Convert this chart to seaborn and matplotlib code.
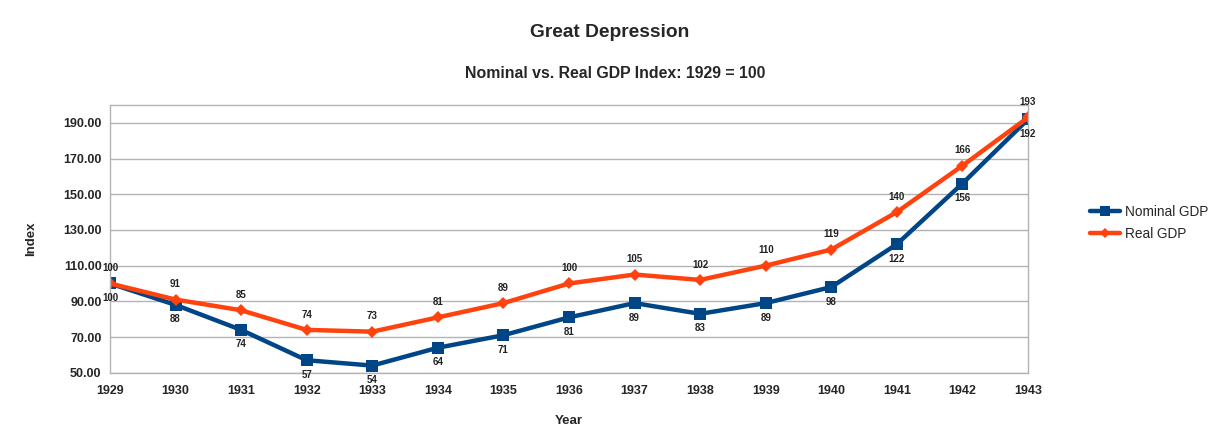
import matplotlib
matplotlib.use("Agg")
import matplotlib.pyplot as plt
import seaborn as sns
import pandas as pd
from matplotlib.lines import Line2D

years = list(range(1929, 1944))
nominal = [100, 88, 74, 57, 54, 64, 71, 81, 89, 83, 89, 98, 122, 156, 192]
real = [100, 91, 85, 74, 73, 81, 89, 100, 105, 102, 110, 119, 140, 166, 193]
yticks = [50, 70, 90, 110, 130, 150, 170, 190]

sns.set_theme(style="white")
plt.rcParams['font.family'] = ['Liberation Sans', 'DejaVu Sans']

df = pd.DataFrame({"Year": years * 2,
                   "Index": nominal + real,
                   "Series": ["Nominal GDP"] * len(years) + ["Real GDP"] * len(years)})

fig = plt.figure(figsize=(12.19, 4.46), dpi=100)
ax = fig.add_axes([0.0902, 0.1643, 0.7531, 0.6003])

palette = {"Nominal GDP": "#004586", "Real GDP": "#ff420e"}
sns.lineplot(data=df, x="Year", y="Index", hue="Series", style="Series",
             markers={"Nominal GDP": "s", "Real GDP": "D"}, dashes=False,
             palette=palette, linewidth=3.2, ax=ax, legend=False,
             markeredgewidth=0)
for line, ms in zip(ax.get_lines(), [8, 6.5]):
    line.set_markersize(ms)

for x, v in zip(years, nominal):
    ax.annotate(f"{v}", (x, v), xytext=(0, -10.5), textcoords="offset points",
                ha="center", va="center", fontsize=7, fontweight="bold", color="#222222")
for x, v in zip(years, real):
    ax.annotate(f"{v}", (x, v), xytext=(0, 11), textcoords="offset points",
                ha="center", va="center", fontsize=7, fontweight="bold", color="#222222")

ax.set_xlim(1929, 1943)
ax.set_ylim(50, 200)
ax.set_xticks(years)
ax.set_xticklabels([str(y) for y in years], fontsize=9, fontweight="bold")
ax.set_yticks(yticks)
ax.set_yticklabels([f"{v:.2f}" for v in yticks], fontsize=9, fontweight="bold")
ax.yaxis.grid(True, color="#b3b3b3", linewidth=1)
ax.set_axisbelow(True)
for s in ax.spines.values():
    s.set_color("#b3b3b3")
    s.set_linewidth(1)
ax.tick_params(axis="x", length=3, color="#b3b3b3", pad=6)
ax.tick_params(axis="y", length=3, color="#b3b3b3", pad=3)

ax.set_xlabel("Year", fontsize=9.5, fontweight="bold", labelpad=13)
ax.set_ylabel("Index", fontsize=9.5, fontweight="bold", labelpad=19)

fig.text(0.5, 0.928, "Great Depression", ha="center", va="center",
         fontsize=13.8, fontweight="bold")
fig.text(0.505, 0.836, "Nominal vs. Real GDP Index: 1929 = 100", ha="center", va="center",
         fontsize=11.4, fontweight="bold")

handles = [Line2D([], [], color="#004586", lw=3.2, marker="s", markersize=7, markeredgewidth=0),
           Line2D([], [], color="#ff420e", lw=3.2, marker="D", markersize=5, markeredgewidth=0)]
fig.legend(handles, ["Nominal GDP", "Real GDP"], loc="center left",
           bbox_to_anchor=(0.884, 0.5), frameon=False, fontsize=9.8,
           handlelength=2.2, handletextpad=0.4, labelspacing=0.55)

fig.savefig("out.png", dpi=100)
